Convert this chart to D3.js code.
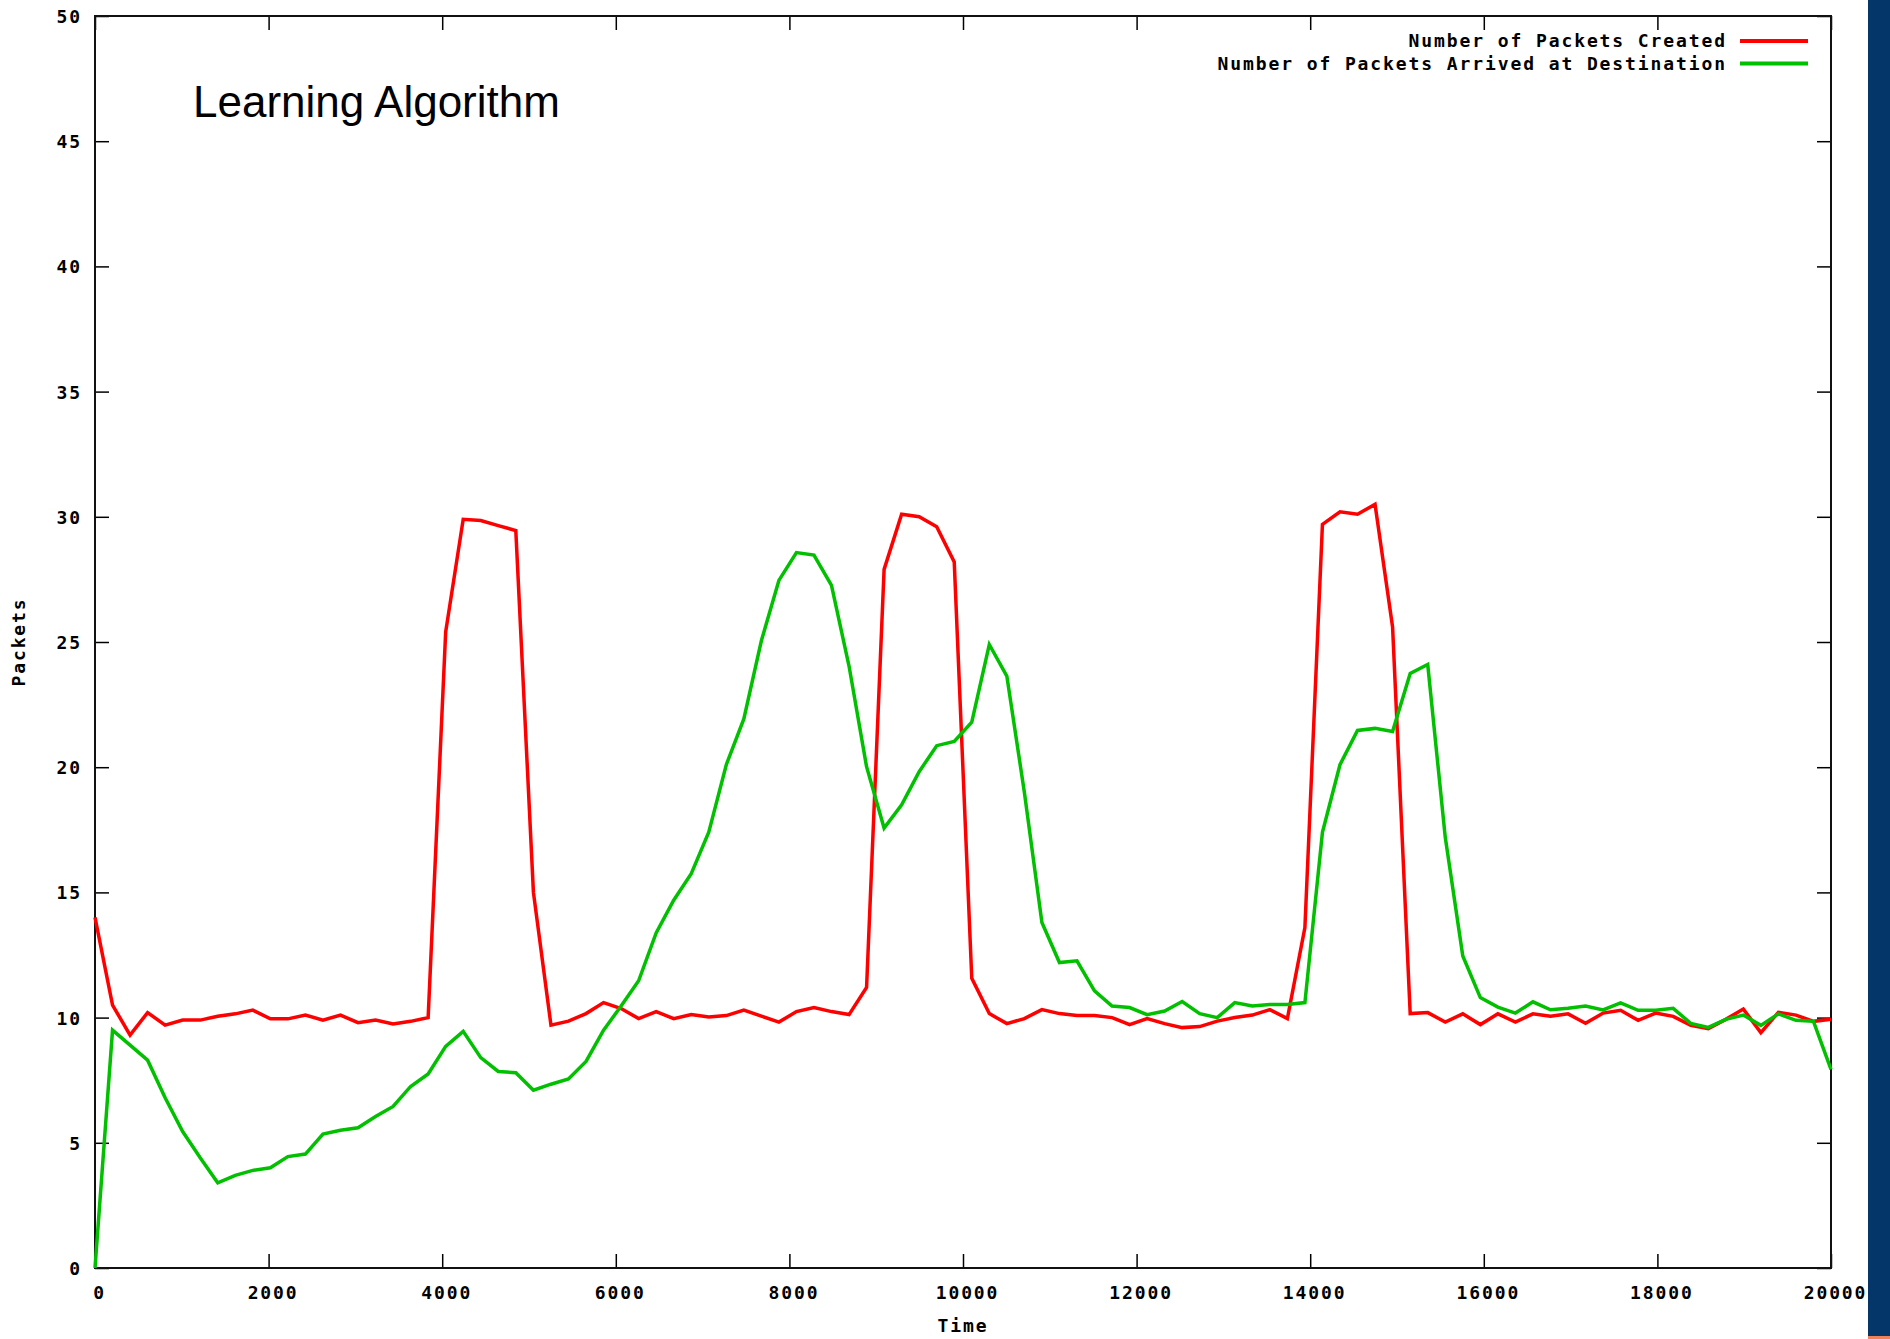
<!DOCTYPE html>
<html>
  <head>
    <meta charset="utf-8">
    <script src="https://d3js.org/d3.v7.min.js"></script>
    <style>
    body { margin: 0; background: #fff; }
    .axis text, .label, .legend text {
        font-family: "DejaVu Sans Mono", monospace;
        font-weight: bold;
        font-size: 18px;
        letter-spacing: 1.9px;
        fill: #000;
    }
    .axis line { stroke: #000; stroke-width: 1.5; }
    .axis path { display: none; }
    .series { fill: none; stroke-width: 3.5; stroke-linejoin: miter; }
    </style>
  </head>
  <body>
    <script>

    // sample times (100 samples over 0..20000)
    var times = [
      0, 202, 404, 606, 808, 1010, 1212, 1414, 1616, 1818,
      2020, 2222, 2424, 2626, 2828, 3030, 3232, 3434, 3636, 3838,
      4040, 4242, 4444, 4646, 4848, 5051, 5253, 5455, 5657, 5859,
      6061, 6263, 6465, 6667, 6869, 7071, 7273, 7475, 7677, 7879,
      8081, 8283, 8485, 8687, 8889, 9091, 9293, 9495, 9697, 9899,
      10101, 10303, 10505, 10707, 10909, 11111, 11313, 11515, 11717, 11919,
      12121, 12323, 12525, 12727, 12929, 13131, 13333, 13535, 13737, 13939,
      14141, 14343, 14545, 14747, 14949, 15152, 15354, 15556, 15758, 15960,
      16162, 16364, 16566, 16768, 16970, 17172, 17374, 17576, 17778, 17980,
      18182, 18384, 18586, 18788, 18990, 19192, 19394, 19596, 19798, 20000];

    var created = [
      14.0, 10.5, 9.3, 10.2, 9.7, 9.9, 9.9, 10.05, 10.15, 10.3,
      9.95, 9.95, 10.1, 9.9, 10.1, 9.8, 9.9, 9.75, 9.85, 10.0,
      25.4, 29.9, 29.85, 29.65, 29.45, 15.0, 9.7, 9.86, 10.16, 10.6,
      10.36, 9.96, 10.24, 9.96, 10.12, 10.02, 10.08, 10.3, 10.06, 9.82,
      10.24, 10.4, 10.24, 10.12, 11.2, 27.9, 30.1, 30.0, 29.6, 28.2,
      11.57, 10.16, 9.76, 9.96, 10.32, 10.16, 10.08, 10.08, 10.0, 9.72,
      9.96, 9.76, 9.6, 9.64, 9.86, 10.0, 10.1, 10.32, 9.96, 13.6,
      29.7, 30.2, 30.1, 30.5, 25.6, 10.16, 10.2, 9.82, 10.15, 9.72,
      10.15, 9.82, 10.15, 10.05, 10.15, 9.77, 10.18, 10.29, 9.89, 10.18,
      10.05, 9.69, 9.56, 9.93, 10.34, 9.4, 10.21, 10.1, 9.85, 9.93];

    var arrived = [
      0, 9.5, 8.9, 8.3, 6.8, 5.45, 4.4, 3.4, 3.7, 3.9,
      4.0, 4.45, 4.55, 5.35, 5.5, 5.6, 6.05, 6.45, 7.25, 7.75,
      8.85, 9.45, 8.4, 7.85, 7.8, 7.1, 7.34, 7.55, 8.25, 9.5,
      10.46, 11.47, 13.38, 14.69, 15.75, 17.4, 20.1, 21.93, 25.05, 27.46,
      28.57, 28.47, 27.26, 24.04, 20.02, 17.57, 18.5, 19.82, 20.86, 21.03,
      21.8, 24.9, 23.64, 19.0, 13.8, 12.2, 12.27, 11.07, 10.46, 10.4,
      10.12, 10.26, 10.64, 10.16, 10.0, 10.6, 10.46, 10.52, 10.52, 10.6,
      17.4, 20.1, 21.47, 21.55, 21.43, 23.74, 24.1, 17.2, 12.46, 10.8,
      10.42, 10.18, 10.63, 10.31, 10.37, 10.46, 10.31, 10.59, 10.29, 10.29,
      10.37, 9.77, 9.61, 9.93, 10.1, 9.69, 10.15, 9.89, 9.85, 7.93];

    var xTicks = [0, 2000, 4000, 6000, 8000, 10000, 12000, 14000, 16000, 18000, 20000];
    var yTicks = [0, 5, 10, 15, 20, 25, 30, 35, 40, 45, 50];

    var seriesNames = ["Number of Packets Created", "Number of Packets Arrived at Destination"];
    var seriesColors = ["#ff0000", "#00c000"];

    var margin = {top: 16, right: 59, bottom: 71, left: 95};
    var width = 1890 - margin.left - margin.right;
    var height = 1339 - margin.top - margin.bottom;

    var x = d3.scaleLinear().domain([0, 20000]).range([0, width]);
    var y = d3.scaleLinear().domain([0, 50]).range([height, 0]);

    var root = d3.select("body")
      .append("svg")
        .attr("width", 1890)
        .attr("height", 1339);

    // blue strip on the right edge
    root.append("rect")
        .attr("x", 1868).attr("y", 0)
        .attr("width", 22).attr("height", 1339)
        .style("fill", "#04366a");
    root.append("rect")
        .attr("x", 1868).attr("y", 1336)
        .attr("width", 22).attr("height", 3)
        .style("fill", "#f0825a");

    var svg = root.append("g")
        .attr("transform", "translate(" + margin.left + "," + margin.top + ")");

    // axes, ticks pointing inward
    svg.append("g")
        .attr("class", "axis")
        .attr("transform", "translate(0," + height + ")")
        .call(d3.axisBottom(x).tickValues(xTicks).tickFormat(d3.format("d"))
              .tickSizeInner(-14).tickSizeOuter(0).tickPadding(18))
        .selectAll("text").attr("dx", 4);

    svg.append("g")
        .attr("class", "axis")
        .call(d3.axisLeft(y).tickValues(yTicks).tickSizeInner(-14).tickSizeOuter(0).tickPadding(13))
        .selectAll("text").attr("dy", "0.36em");

    svg.append("g")
        .attr("class", "axis")
        .call(d3.axisTop(x).tickValues(xTicks).tickSizeInner(-14).tickSizeOuter(0).tickFormat(""));

    svg.append("g")
        .attr("class", "axis")
        .attr("transform", "translate(" + width + ",0)")
        .call(d3.axisRight(y).tickValues(yTicks).tickSizeInner(-14).tickSizeOuter(0).tickFormat(""));

    svg.append("rect")
        .attr("width", width)
        .attr("height", height)
        .style("fill", "none")
        .style("stroke", "#111")
        .style("stroke-width", 2);

    // axis labels
    svg.append("text")
        .attr("class", "label")
        .attr("x", width / 2)
        .attr("y", height + 64)
        .style("text-anchor", "middle")
        .text("Time");

    svg.append("text")
        .attr("class", "label")
        .attr("transform", "rotate(-90)")
        .attr("x", -height / 2)
        .attr("y", -margin.left + 25)
        .style("text-anchor", "middle")
        .text("Packets");

    // title inside the plot
    svg.append("text")
        .attr("x", 193 - margin.left)
        .attr("y", 117 - margin.top)
        .style("font-family", "'Liberation Sans', Arial, sans-serif")
        .style("font-size", "44px")
        .style("fill", "#000")
        .text("Learning Algorithm");

    // lines
    var series = [created, arrived];
    series.forEach(function(vals, i) {
      var line = d3.line()
          .x(function(d, j) { return x(times[j]); })
          .y(function(d) { return y(d); });
      svg.append("path")
          .datum(vals)
          .attr("class", "series")
          .attr("d", line)
          .style("stroke", seriesColors[i]);
    });

    // legend
    var legend = svg.append("g").attr("class", "legend");
    seriesNames.forEach(function(name, i) {
      var ly = 41 - margin.top + i * 22.5;
      legend.append("text")
          .attr("x", 1727 - margin.left)
          .attr("y", ly)
          .attr("dy", "0.36em")
          .style("text-anchor", "end")
          .text(name);
      legend.append("line")
          .attr("x1", 1740 - margin.left)
          .attr("x2", 1808 - margin.left)
          .attr("y1", ly)
          .attr("y2", ly)
          .style("stroke", seriesColors[i])
          .style("stroke-width", 4);
    });

    </script>
  </body>
</html>
